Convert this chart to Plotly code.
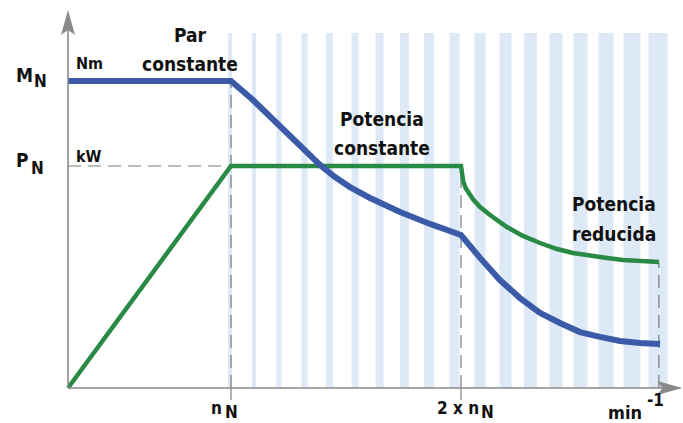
import plotly.graph_objects as go

# ---------------- data (x in relative speed units, nN = 1; y in units of PN) ----------------
torque_x = [0.0, 1.0, 1.135, 1.239, 1.344, 1.448, 1.546, 1.638, 1.730, 1.853, 2.037, 2.221, 2.411,
            2.528, 2.650, 2.773, 2.896, 3.018, 3.141, 3.264, 3.387, 3.509, 3.632]
torque_y = [1.383, 1.383, 1.297, 1.221, 1.149, 1.072, 1.005, 0.950, 0.905, 0.856, 0.793, 0.739,
            0.689, 0.586, 0.486, 0.405, 0.338, 0.293, 0.252, 0.230, 0.212, 0.203, 0.198]

power_x = [0.0, 1.0, 2.411, 2.416, 2.425, 2.440, 2.460, 2.485, 2.528, 2.589, 2.693, 2.791, 2.896,
           3.0, 3.098, 3.202, 3.307, 3.405, 3.509, 3.625]
power_y = [0.0, 1.0, 1.0, 0.962, 0.930, 0.900, 0.874, 0.850, 0.815, 0.779, 0.725, 0.685, 0.653,
           0.626, 0.608, 0.595, 0.586, 0.577, 0.572, 0.568]

n_N = 1.0          # rated speed position
n_2N = 2.411       # 2 x rated speed position
n_end = 3.625      # end of curves
M_N = 1.383        # rated torque level
P_N = 1.0          # rated power level
P_end = 0.568

# decorative stripes (centres in x units, widths in px)
stripe_x = [0.994, 1.141, 1.294, 1.451, 1.604, 1.761, 1.911, 2.064, 2.215, 2.371, 2.528,
            2.684, 2.837, 2.994, 3.144, 3.301, 3.460, 3.620]
stripe_w = [4, 4, 5, 6, 7, 7, 8, 9, 10, 10, 11, 12, 13, 13, 14, 15, 17, 19]
stripe_top = 1.599

W, H = 683, 423
X_RANGE = [-0.4172, 3.773]
Y_RANGE = [-0.1577, 1.7477]

FONT = "DejaVu Sans Condensed, DejaVu Sans, sans-serif"
AX_COL = "#8a8a8a"
DASH_COL = "#7a7a7a"

fig = go.Figure()

fig.add_trace(go.Scatter(x=power_x, y=power_y, mode="lines",
                         line=dict(color="#288a45", width=4.5), hoverinfo="skip"))
fig.add_trace(go.Scatter(x=torque_x, y=torque_y, mode="lines",
                         line=dict(color="#3b5ba9", width=6), hoverinfo="skip"))

shapes = []
for cx, w in zip(stripe_x, stripe_w):
    shapes.append(dict(type="rect", xref="x", yref="y", xsizemode="pixel", xanchor=cx,
                       x0=-w / 2, x1=w / 2, y0=0, y1=stripe_top,
                       fillcolor="#dde9f6", line=dict(width=0), layer="below"))

dash = "13px,7px"
shapes += [
    dict(type="line", xref="x", yref="y", x0=0, x1=n_N, y0=P_N, y1=P_N,
         line=dict(color=DASH_COL, width=1.2, dash=dash), layer="below"),
    dict(type="line", xref="x", yref="y", x0=n_N, x1=n_N, y0=0, y1=M_N,
         line=dict(color=DASH_COL, width=1.2, dash=dash), layer="below"),
    dict(type="line", xref="x", yref="y", x0=n_2N, x1=n_2N, y0=0, y1=P_N,
         line=dict(color=DASH_COL, width=1.2, dash=dash), layer="below"),
    dict(type="line", xref="x", yref="y", x0=n_end, x1=n_end, y0=0, y1=P_end,
         line=dict(color=DASH_COL, width=1.2, dash=dash), layer="below"),
]
# small tick marks below the x axis
for tx in (n_N, n_2N):
    shapes.append(dict(type="line", xref="x", yref="y", ysizemode="pixel", yanchor=0,
                       x0=tx, x1=tx, y0=0, y1=-12, line=dict(color=AX_COL, width=1.3)))

# axes with arrows
x_tip = X_RANGE[1] - 0.004
y_tip = 1.703
shapes += [
    dict(type="line", xref="x", yref="y", x0=0, x1=0, y0=0, y1=y_tip - 0.05,
         line=dict(color=AX_COL, width=1.6)),
    dict(type="line", xref="x", yref="y", x0=0, x1=x_tip - 0.08, y0=0, y1=0,
         line=dict(color=AX_COL, width=1.6)),
    dict(type="path", xref="x", yref="y", xsizemode="pixel", ysizemode="pixel",
         xanchor=0, yanchor=y_tip, path="M0,0 L-7,-25 L0,-20 L7,-25 Z",
         fillcolor=AX_COL, line=dict(width=0)),
    dict(type="path", xref="x", yref="y", xsizemode="pixel", ysizemode="pixel",
         xanchor=x_tip, yanchor=0, path="M0,0 L-25,7 L-20,0 L-25,-7 Z",
         fillcolor=AX_COL, line=dict(width=0)),
]


def ann(text, px, py, size, xanchor="center", yanchor="middle"):
    return dict(text=text, xref="paper", yref="paper", x=px / W, y=1 - py / H,
                xanchor=xanchor, yanchor=yanchor, showarrow=False,
                font=dict(family=FONT, size=size, color="#111111"), align="center")


BIG = 19
annotations = [
    ann("<b>M</b>", 24, 75, 19),
    ann("<b>N</b>", 40, 81, 17),
    ann("<b>P</b>", 22, 160, 19),
    ann("<b>N</b>", 37, 168, 17),
    ann("<b>Nm</b>", 74, 63, 16, xanchor="left"),
    ann("<b>kW</b>", 74, 156, 16, xanchor="left"),
    ann("<b>Par</b>", 190, 35, BIG),
    ann("<b>constante</b>", 190, 64, BIG),
    ann("<b>Potencia</b>", 382, 119, BIG),
    ann("<b>constante</b>", 382, 148, BIG),
    ann("<b>Potencia</b>", 614, 204, BIG),
    ann("<b>reducida</b>", 614, 234, BIG),
    ann("<b>n</b>", 224, 408, 17, xanchor="right"),
    ann("<b>N</b>", 223, 412, 17, xanchor="left"),
    ann("<b>2 x n</b>", 481, 408, 17, xanchor="right"),
    ann("<b>N</b>", 479, 412, 17, xanchor="left"),
    ann("<b>min</b>", 625, 412, 18),
    ann("<b>-1</b>", 655, 400, 17),
]

fig.update_layout(
    width=W, height=H, margin=dict(l=0, r=0, t=0, b=0),
    paper_bgcolor="white", plot_bgcolor="white", showlegend=False,
    xaxis=dict(range=X_RANGE, visible=False, fixedrange=True),
    yaxis=dict(range=Y_RANGE, visible=False, fixedrange=True),
    shapes=shapes, annotations=annotations,
)

fig.write_html("out.html", config={"displayModeBar": False},
               post_script="document.body.style.margin='0';document.body.style.overflow='hidden';")
